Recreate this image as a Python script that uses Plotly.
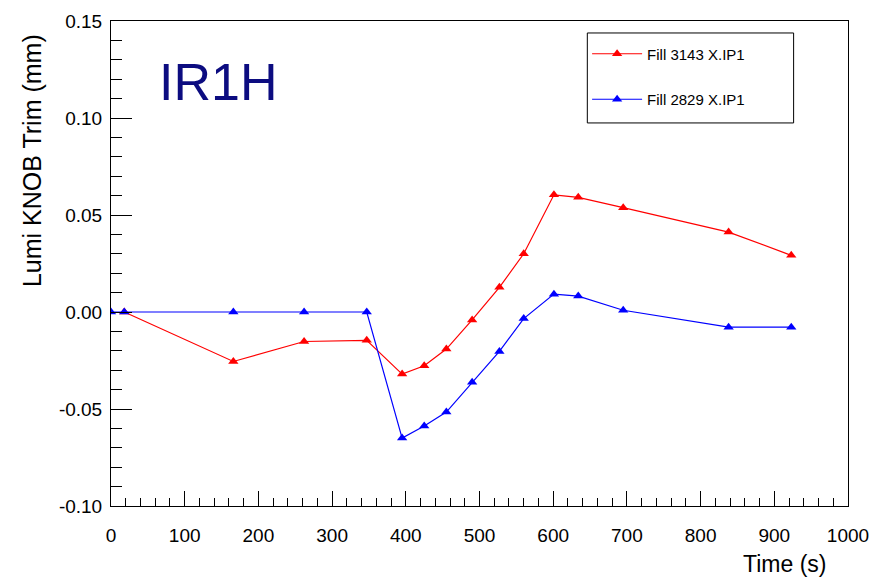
import plotly.graph_objects as go

# Lumi knob trim scans for IR1 horizontal plane
time_3143 = [18, 166, 262, 347, 395, 425, 455, 490, 527, 560, 601, 634, 695, 838, 923]
trim_3143 = [0.0, -0.0255, -0.0152, -0.0146, -0.0320, -0.0277, -0.0191, -0.0041,
             0.0127, 0.0300, 0.0604, 0.0591, 0.0538, 0.0412, 0.0292]

time_2829 = [0, 18, 166, 262, 347, 395, 425, 455, 490, 527, 560, 601, 634, 695, 838, 923]
trim_2829 = [0.0, 0.0, 0.0, 0.0, 0.0, -0.0650, -0.0588, -0.0516, -0.0362, -0.0203,
             -0.0034, 0.0092, 0.0082, 0.0009, -0.0078, -0.0078]

x_ticks = [0, 100, 200, 300, 400, 500, 600, 700, 800, 900, 1000]
x_labels = [str(v) for v in x_ticks]
y_ticks = [-0.10, -0.05, 0.0, 0.05, 0.10, 0.15]
y_labels = ["-0.10", "-0.05", "0.00", "0.05", "0.10", "0.15"]

FONT = "Liberation Sans, Arial, sans-serif"

fig = go.Figure()
fig.add_trace(go.Scatter(
    x=time_3143, y=trim_3143, mode="lines+markers", name="Fill 3143 X.IP1",
    legendgroup="a",
    line=dict(color="#ff0000", width=1.2),
    marker=dict(symbol="triangle-up", size=9, color="#ff0000"),
))
fig.add_trace(go.Scatter(
    x=time_2829, y=trim_2829, mode="lines+markers", name="Fill 2829 X.IP1",
    legendgroup="b",
    line=dict(color="#0000ff", width=1.2),
    marker=dict(symbol="triangle-up", size=9, color="#0000ff"),
))

fig.update_layout(
    width=873, height=579,
    margin=dict(l=111, r=25, t=21, b=73),
    paper_bgcolor="white", plot_bgcolor="white",
    font=dict(family=FONT, color="black", size=19),
    showlegend=True,
    legend=dict(
        x=0.646, y=0.966, xanchor="left", yanchor="top",
        bgcolor="rgba(0,0,0,0)", borderwidth=0,
        font=dict(family=FONT, size=15, color="black"),
        traceorder="grouped", tracegroupgap=23,
        itemwidth=50,
    ),
    # frame around the legend entries
    shapes=[
        dict(type="rect", xref="paper", yref="paper",
             x0=0.6463, x1=0.9262, y0=0.7898, y1=0.9753,
             line=dict(color="black", width=1), fillcolor="white",
             layer="below"),
    ],
    xaxis=dict(
        range=[0, 1000], showgrid=False, zeroline=False, automargin=False,
        showline=True, linecolor="black", linewidth=1, mirror=True,
        tickvals=x_ticks, ticktext=x_labels,
        ticks="inside", ticklen=15, tickcolor="black", tickwidth=1,
        ticklabelstandoff=12,
        minor=dict(dtick=20, tick0=0, ticks="inside", ticklen=8,
                   tickcolor="black", tickwidth=1, showgrid=False),
        tickfont=dict(size=19),
    ),
    yaxis=dict(
        range=[-0.10, 0.15], showgrid=False, zeroline=False, automargin=False,
        showline=True, linecolor="black", linewidth=1, mirror=True,
        tickvals=y_ticks, ticktext=y_labels,
        ticks="inside", ticklen=21, tickcolor="black", tickwidth=1,
        ticklabelstandoff=4,
        minor=dict(dtick=0.01, tick0=0, ticks="inside", ticklen=11,
                   tickcolor="black", tickwidth=1, showgrid=False),
        tickfont=dict(size=19),
    ),
    annotations=[
        dict(text="IR1H", xref="paper", yref="paper", x=0.062, y=0.874,
             xanchor="left", yanchor="middle", showarrow=False,
             font=dict(family=FONT, size=52, color="#0c0c80")),
        dict(text="Time (s)", xref="paper", yref="paper", x=0.973, y=-0.12,
             xanchor="right", yanchor="middle", showarrow=False,
             font=dict(family=FONT, size=23, color="black")),
        dict(text="Lumi KNOB Trim (mm)", xref="paper", yref="paper",
             x=-0.108, y=0.977, xanchor="center", yanchor="top",
             textangle=-90, showarrow=False,
             font=dict(family=FONT, size=25, color="black")),
    ],
)

fig.write_html("out.html")
